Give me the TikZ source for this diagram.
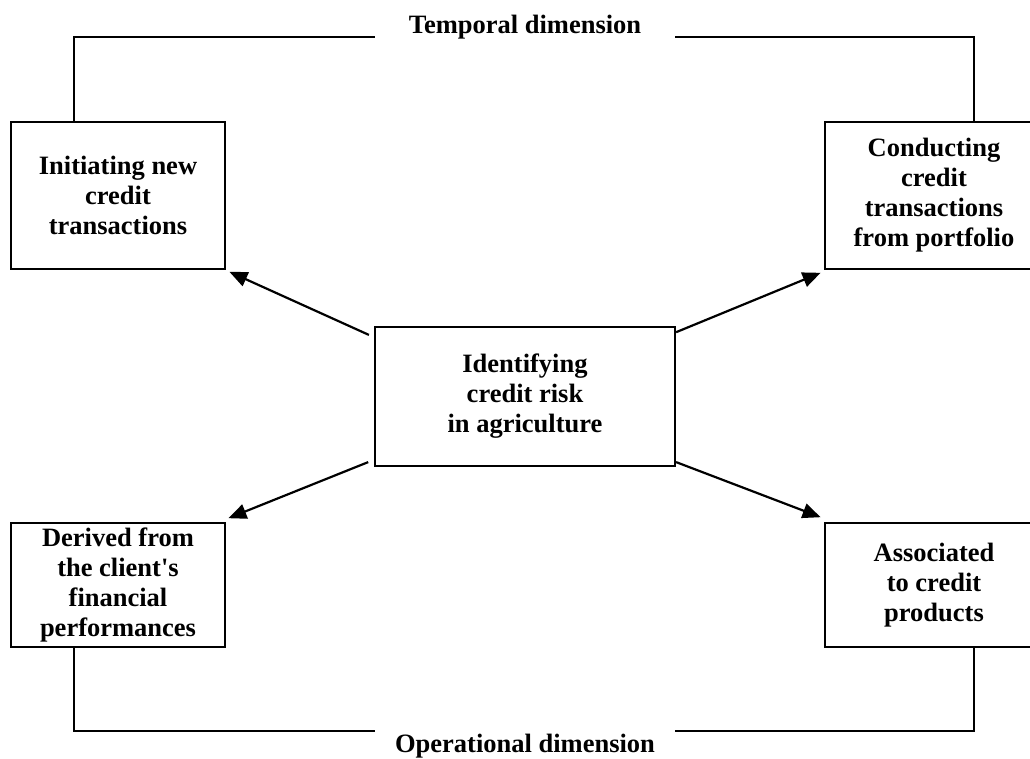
\documentclass[tikz,border=0pt]{standalone}
\usepackage{fontspec}
\setmainfont{Liberation Serif}
\usetikzlibrary{arrows.meta,calc}
\begin{document}
\begin{tikzpicture}[x=1pt,y=-1pt,
  box/.style={draw, line width=2.2pt, align=center, inner sep=0pt,
    font=\bfseries\fontsize{26.5}{30}\selectfont},
  conn/.style={line width=2pt},
  arr/.style={line width=2.2pt, -{Triangle[length=18pt,width=15pt]}},
  lbl/.style={font=\bfseries\fontsize{26.5}{30}\selectfont, inner sep=0pt, anchor=base}]
\clip (0,0) rectangle (1030,758);
\node[box, minimum width=214pt, minimum height=147.6pt] (tl) at (118,195.5) {Initiating new\\credit\\transactions};
\node[box, minimum width=218pt, minimum height=147.6pt] (tr) at (934,195.5) {Conducting\\credit\\transactions\\from portfolio};
\node[box, minimum width=300pt, minimum height=139pt] (c) at (525,396.2) {Identifying\\credit risk\\in agriculture};
\node[box, minimum width=214pt, minimum height=124pt] (bl) at (118,584.7) {Derived from\\the client\textquotesingle s\\financial\\performances};
\node[box, minimum width=218pt, minimum height=124pt] (br) at (934,584.7) {Associated\\to credit\\products};
\node[lbl] (temp) at (525,33.3) {Temporal dimension};
\node[lbl] (oper) at (525,752) {Operational dimension};
\coordinate (tA) at (375,36.7);
\coordinate (tB) at (675,36.7);
\coordinate (oA) at (375,730.7);
\coordinate (oB) at (675,730.7);
\draw[conn] ([xshift=64pt]tl.north west) |- (tA);
\draw[conn] (tB) -| ([xshift=150pt]tr.north west);
\draw[conn] ([xshift=64pt]bl.south west) |- (oA);
\draw[conn] (oB) -| ([xshift=150pt]br.south west);
\draw[arr] ($(c.north west)+(-5,9.3)$) -- ($(tl.south east)+(3.3,1.4)$);
\draw[arr] ($(c.south west)+(-5.7,-4.7)$) -- ($(bl.north east)+(2.3,-3.4)$);
\draw[arr] ($(c.north east)+(0,6.6)$) -- ($(tr.south west)+(-3.3,2.4)$);
\draw[arr] ($(c.south east)+(0,-4.7)$) -- ($(br.north west)+(-3.3,-4.4)$);
\end{tikzpicture}
\end{document}
